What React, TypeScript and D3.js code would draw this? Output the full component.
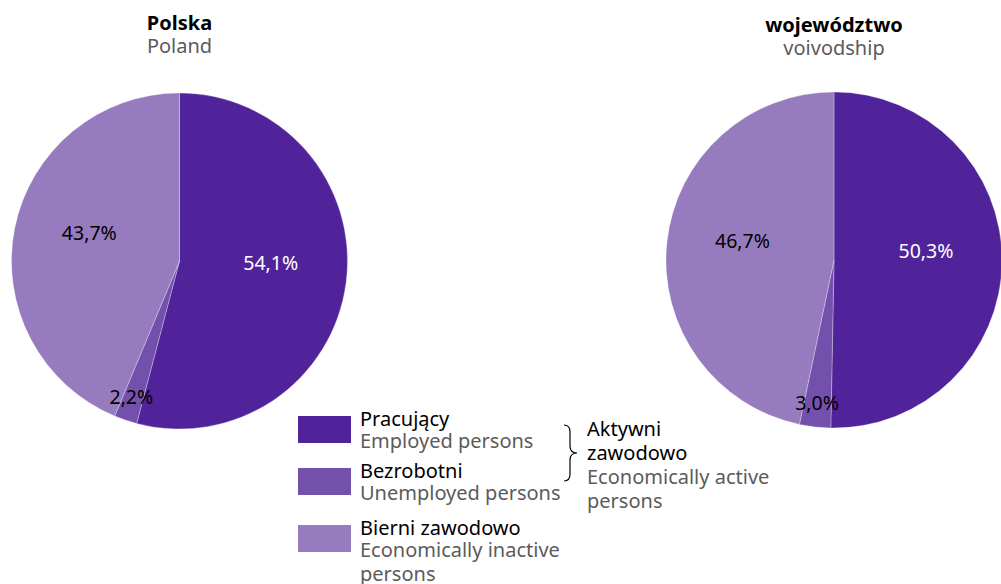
import { useEffect, useRef } from "react";
import * as d3 from "d3";

// category names (PL / EN) and colours
const categoriesPl = ["Pracujący", "Bezrobotni", "Bierni zawodowo"];
const categoriesEn = ["Employed persons", "Unemployed persons", "Economically inactive persons"];
const colors = ["#51239a", "#7450ad", "#977bbf"];

// shares in %
const polandValues = [54.1, 2.2, 43.7];
const voivodshipValues = [50.3, 3.0, 46.7];

const titlesPl = ["Polska", "województwo"];
const titlesEn = ["Poland", "voivodship"];

const FONT = "'Noto Sans', sans-serif";
const GREY = "#5b5b5b";

export default function App() {
    const svgRef = useRef<SVGSVGElement>(null);
    const width = 1001;
    const height = 584;

    useEffect(() => {
        const svg = d3.select(svgRef.current);
        svg.selectAll("*").remove();

        const radius = 168;
        const pies = [
            { cx: 179.5, cy: 261, values: polandValues, tY: 30 },
            { cx: 834, cy: 260, values: voivodshipValues, tY: 32 },
        ];

        const pie = d3.pie<number>().sort(null).value(d => d);
        const arc = d3.arc<d3.PieArcDatum<number>>().innerRadius(0).outerRadius(radius);

        pies.forEach((p, pi) => {
            const g = svg.append("g").attr("transform", `translate(${p.cx},${p.cy})`);
            const arcs = pie(p.values);

            g.selectAll("path")
                .data(arcs)
                .enter()
                .append("path")
                .attr("d", arc)
                .attr("fill", (_, i) => colors[i])
                .attr("stroke", "#ffffff")
                .attr("stroke-opacity", 0.35)
                .attr("stroke-width", 0.8);

            // labels: small slices near the edge, others closer to centre
            g.selectAll("text.lbl")
                .data(arcs)
                .enter()
                .append("text")
                .attr("class", "lbl")
                .attr("transform", d => {
                    const small = d.data < 5;
                    const r = small ? 150 : 92;
                    const a = (d.startAngle + d.endAngle) / 2;
                    return `translate(${Math.sin(a) * r},${-Math.cos(a) * r - (small ? 4 : 8)})`;
                })
                .attr("text-anchor", "middle")
                .attr("dominant-baseline", "middle")
                .attr("font-family", FONT)
                .attr("font-size", 19.5)
                .attr("fill", (_, i) => (i === 0 ? "#ffffff" : "#000000"))
                .text(d => d.data.toFixed(1).replace(".", ",") + "%");

            // titles
            svg.append("text")
                .attr("x", p.cx)
                .attr("y", p.tY)
                .attr("text-anchor", "middle")
                .attr("font-family", FONT)
                .attr("font-weight", "bold")
                .attr("font-size", 20)
                .attr("fill", "#000")
                .text(titlesPl[pi]);
            svg.append("text")
                .attr("x", p.cx)
                .attr("y", p.tY + 23)
                .attr("text-anchor", "middle")
                .attr("font-family", FONT)
                .attr("font-size", 20)
                .attr("fill", GREY)
                .text(titlesEn[pi]);
        });

        // legend
        const legend = svg.append("g");
        const swatchY = [416, 468, 525];
        const enLines = [["Employed persons"], ["Unemployed persons"], ["Economically inactive", "persons"]];
        categoriesPl.forEach((c, i) => {
            legend.append("rect")
                .attr("x", 298)
                .attr("y", swatchY[i])
                .attr("width", 53)
                .attr("height", 27)
                .attr("fill", colors[i]);
            legend.append("text")
                .attr("x", 360)
                .attr("y", swatchY[i] + 10)
                .attr("font-family", FONT)
                .attr("font-size", 20)
                .attr("fill", "#000")
                .text(c);
            enLines[i].forEach((l, j) => {
                legend.append("text")
                    .attr("x", 360)
                    .attr("y", swatchY[i] + 32 + j * 24)
                    .attr("font-family", FONT)
                    .attr("font-size", 20)
                    .attr("fill", GREY)
                    .text(l);
            });
        });

        // brace grouping employed + unemployed
        legend.append("path")
            .attr("d", "M564,425 Q570,425 570,432 L570,446 Q570,453 577,453 Q570,453 570,460 L570,474 Q570,481 564,481")
            .attr("fill", "none")
            .attr("stroke", "#000")
            .attr("stroke-width", 1.2);

        const active = [
            { t: "Aktywni", c: "#000" },
            { t: "zawodowo", c: "#000" },
            { t: "Economically active", c: GREY },
            { t: "persons", c: GREY },
        ];
        active.forEach((a, i) => {
            legend.append("text")
                .attr("x", 587)
                .attr("y", 436 + i * 24)
                .attr("font-family", FONT)
                .attr("font-size", 20)
                .attr("fill", a.c)
                .text(a.t);
        });
    }, []);

    return (
        <svg
            ref={svgRef}
            width={width}
            height={height}
            style={{ position: "absolute", left: 0, top: 0, background: "#fff" }}
        />
    );
}
